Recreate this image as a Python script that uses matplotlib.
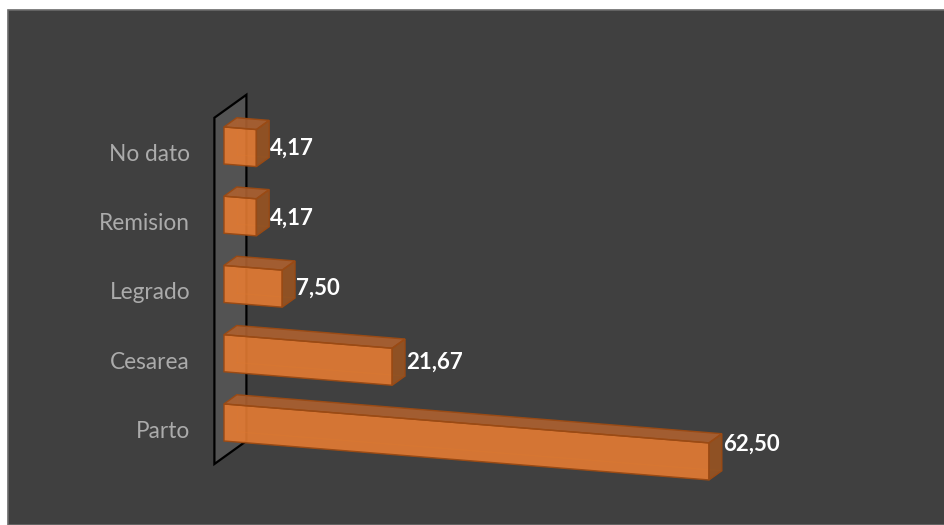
import matplotlib
matplotlib.use("Agg")
import matplotlib.pyplot as plt
from matplotlib.patches import Polygon, Rectangle
from matplotlib.transforms import Affine2D

# ---- data -------------------------------------------------------------
categories = ["Parto", "Cesarea", "Legrado", "Remision", "No dato"]
values = [62.50, 21.67, 7.50, 4.17, 4.17]
value_labels = ["62,50", "21,67", "7,50", "4,17", "4,17"]

# ---- look ---------------------------------------------------------------
BG = "#404040"
FRONT = "#E57C33"
TOP = "#AE6130"
SIDE = "#995421"
EDGE = "#9A4A14"
WALL = "#535353"
LABEL_GREY = "#ABABAB"

W, H = 945, 525
DPI = 100
fig = plt.figure(figsize=(W / DPI, H / DPI), dpi=DPI, facecolor="white")

# dark chart panel with a thin grey frame
fig.patches.append(Rectangle((8 / W, 0), 1 - 8 / W, 1 - 10 / H,
                             transform=fig.transFigure, facecolor=BG,
                             edgecolor="#6B6B6B", linewidth=1.2, zorder=-10))

# plotting area: x = value, y = category index (front plane, depth 0)
ax = fig.add_axes([214.4 / W, 61 / H, 698.4 / W, 346.25 / H])
ax.set_zorder(1)
ax.set_xlim(0, 90)
ax.set_ylim(-0.5, 4.5)
ax.patch.set_visible(False)
for s in ax.spines.values():
    s.set_visible(False)
ax.set_xticks([])
ax.set_yticks(range(len(categories)), labels=categories)
ax.tick_params(axis="y", length=0, pad=17.5, labelcolor=LABEL_GREY,
               labelsize=16.3)
for t in ax.get_yticklabels():
    t.set_fontfamily("Lato")

# perspective-like skew: bars drift downward as the value grows
K = 0.0090
skew = Affine2D([[1, 0, 0], [-K, 1, 0], [0, 0, 1]])
tr = skew + ax.transData

# depth direction (full depth of the floor/wall) in data units
DX = 4.124
DY = 0.332 + K * DX
D0, D1 = 0.3, 0.7      # bar depth band
HALF = 0.2675          # half bar thickness


def proj(v, c, d):
    return (v + d * DX, c + d * DY)


# side wall at value 0
wall = [proj(0, -0.5, 0), proj(0, 4.5, 0), proj(0, 4.5, 1), proj(0, -0.5, 1)]
ax.add_patch(Polygon(wall, closed=True, facecolor=WALL, edgecolor="black",
                     linewidth=1.6, transform=tr, zorder=1, clip_on=False))

for i, (v, lab) in enumerate(zip(values, value_labels)):
    lo, hi = i - HALF, i + HALF
    # edges hidden behind the semi-transparent front face
    hidden = [
        [proj(0, lo, D1), proj(0, hi, D1)],
        [proj(0, lo, D1), proj(v, lo, D1)],
    ]
    for seg in hidden:
        xs, ys = zip(*seg)
        ax.plot(xs, ys, color=EDGE, linewidth=0.8, alpha=0.35,
                transform=tr, zorder=2, clip_on=False)

    front = [proj(0, lo, D0), proj(v, lo, D0), proj(v, hi, D0), proj(0, hi, D0)]
    top = [proj(0, hi, D0), proj(v, hi, D0), proj(v, hi, D1), proj(0, hi, D1)]
    side = [proj(v, lo, D0), proj(v, lo, D1), proj(v, hi, D1), proj(v, hi, D0)]
    for face, col in ((front, FRONT), (top, TOP), (side, SIDE)):
        ax.add_patch(Polygon(face, closed=True, facecolor=col, alpha=0.9,
                             edgecolor="none", transform=tr, zorder=3,
                             clip_on=False))
        ax.add_patch(Polygon(face, closed=True, facecolor="none",
                             edgecolor=EDGE, linewidth=1.0, transform=tr,
                             zorder=4, clip_on=False))

    # value label just beyond the bar's back corner
    x_lab, _ = proj(v, i, D1)
    ax.text(x_lab + 0.12, i + 0.5 * K * v + D0 * DY - K * D0 * DX, lab,
            transform=tr, ha="left", va="center", color="white",
            fontsize=16, fontweight="bold", fontfamily="Lato", zorder=5,
            clip_on=False)

fig.savefig("out.png", dpi=DPI, facecolor=fig.get_facecolor())
